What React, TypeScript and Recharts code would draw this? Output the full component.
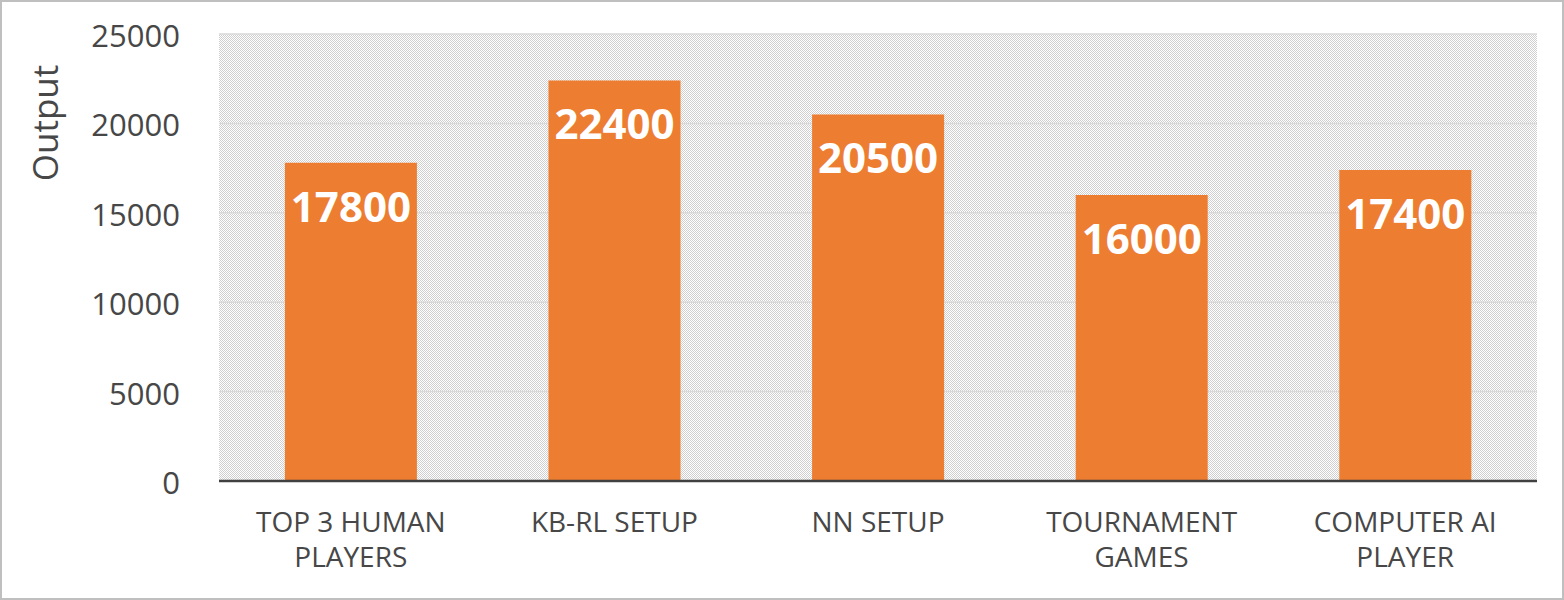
import { BarChart, Bar, XAxis, YAxis, CartesianGrid, LabelList } from "recharts";

const categories = [
  "TOP 3 HUMAN PLAYERS",
  "KB-RL SETUP",
  "NN SETUP",
  "TOURNAMENT GAMES",
  "COMPUTER AI PLAYER",
];
const outputs = [17800, 22400, 20500, 16000, 17400];
const yTicks = [0, 5000, 10000, 15000, 20000, 25000];

const data = categories.map((name, i) => ({ name, output: outputs[i] }));

const FONT = "'Open Sans', 'DejaVu Sans', sans-serif";
const TEXT = "#474747";

// greedy wrap, about 11 characters per line like the original
function wrap(label: string, max = 11) {
  const lines: string[] = [];
  let cur = "";
  for (const w of label.split(" ")) {
    const next = cur ? cur + " " + w : w;
    if (next.length > max && cur) {
      lines.push(cur);
      cur = w;
    } else {
      cur = next;
    }
  }
  if (cur) lines.push(cur);
  return lines;
}

function CategoryTick(props: any) {
  const { x, y, payload } = props;
  const lines = wrap(String(payload.value));
  return (
    <g>
      {lines.map((line, i) => (
        <text
          key={i}
          x={x}
          y={y + 43 + i * 35}
          textAnchor="middle"
          fontFamily={FONT}
          fontSize={28}
          fill={TEXT}
        >
          {line}
        </text>
      ))}
    </g>
  );
}

function ValueLabel(props: any) {
  const { x, y, width, value } = props;
  return (
    <text
      x={x + width / 2}
      y={y + 59}
      textAnchor="middle"
      fontFamily={FONT}
      fontWeight={700}
      fontSize={42}
      fill="#ffffff"
    >
      {value}
    </text>
  );
}

function AxisTitle() {
  return (
    <text
      transform="translate(58,123) rotate(-90)"
      textAnchor="middle"
      fontFamily={FONT}
      fontSize={35}
      fill={TEXT}
    >
      Output
    </text>
  );
}

export default function App() {
  return (
    <div style={{ position: "absolute", left: 0, top: 0, width: 1564, height: 600, background: "#fff" }}>
      <BarChart
        width={1564}
        height={600}
        data={data}
        margin={{ top: 34, right: 27, left: 0, bottom: 0 }}
        barCategoryGap="25%"
      >
        <defs>
          <pattern id="dots" width={2} height={2} patternUnits="userSpaceOnUse">
            <rect width={2} height={2} fill="#ffffff" />
            <rect x={0} y={0} width={1} height={1} fill="#cfcfcf" />
            <rect x={1} y={1} width={1} height={1} fill="#cfcfcf" />
          </pattern>
        </defs>
        <CartesianGrid vertical={false} stroke="#d9d9d9" strokeWidth={1.5} fill="url(#dots)" fillOpacity={1} />
        <XAxis
          dataKey="name"
          height={119}
          tickLine={false}
          axisLine={{ stroke: "#404040", strokeWidth: 2.5 }}
          tick={<CategoryTick />}
          interval={0}
        />
        <YAxis
          width={219}
          domain={[0, 25000]}
          ticks={yTicks}
          tickLine={false}
          axisLine={false}
          tickSize={0}
          tickMargin={39}
          tick={{ fontFamily: FONT, fontSize: 31, fill: TEXT, dy: 2 }}
          label={<AxisTitle />}
        />
        <Bar dataKey="output" fill="#ed7d31" isAnimationActive={false}>
          <LabelList dataKey="output" content={<ValueLabel />} />
        </Bar>
      </BarChart>
      <div
        style={{
          position: "absolute",
          inset: 0,
          border: "2px solid #bfbfbf",
          pointerEvents: "none",
        }}
      />
    </div>
  );
}
